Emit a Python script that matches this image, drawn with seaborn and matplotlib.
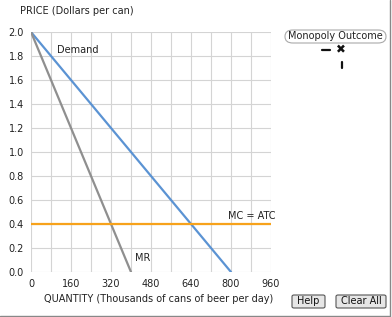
import numpy as np
import pandas as pd
import matplotlib
matplotlib.use("Agg")
import matplotlib.pyplot as plt
from matplotlib.patches import FancyBboxPatch
import seaborn as sns

# curve endpoints
demand_q = [0, 800]
demand_p = [2.0, 0.0]
mr_q = [0, 400]
mr_p = [2.0, 0.0]
mc_q = [0, 960]
mc_p = [0.4, 0.4]

x_ticks = [0, 160, 320, 480, 640, 800, 960]
y_ticks = [0.0, 0.2, 0.4, 0.6, 0.8, 1.0, 1.2, 1.4, 1.6, 1.8, 2.0]

sns.set_style("white")
plt.rcParams['font.family'] = ['DejaVu Sans']

fig = plt.figure(figsize=(3.92, 3.17), dpi=100)
ax = fig.add_axes([31/392, 1 - 272/317, 240/392, 240/317])

df = pd.concat([
    pd.DataFrame({'q': demand_q, 'p': demand_p, 'curve': 'Demand'}),
    pd.DataFrame({'q': mr_q, 'p': mr_p, 'curve': 'MR'}),
    pd.DataFrame({'q': mc_q, 'p': mc_p, 'curve': 'MC = ATC'}),
])
colors = {'Demand': '#5b93d3', 'MR': '#8f8f8f', 'MC = ATC': '#f7a21b'}
sns.lineplot(data=df, x='q', y='p', hue='curve', palette=colors,
             linewidth=1.6, legend=False, ax=ax, sort=False)

ax.set_xlim(0, 960)
ax.set_ylim(0, 2.0)
ax.set_xticks(np.arange(0, 961, 80), minor=True)
ax.set_xticks(x_ticks)
ax.set_yticks(y_ticks)
ax.set_yticklabels([f"{v:.1f}" for v in y_ticks])
ax.grid(True, which='both', color='#d4d4d4', linewidth=0.8)
ax.set_axisbelow(True)
for s in ax.spines.values():
    s.set_visible(False)
ax.tick_params(axis='both', which='both', length=0, labelsize=7, colors='#222222')
ax.tick_params(axis='x', pad=5)
ax.tick_params(axis='y', pad=5)
ax.set_xlabel('')
ax.set_ylabel('')

ax.text(104, 1.85, 'Demand', fontsize=7, va='center', ha='left', color='#222222')
ax.text(418, 0.12, 'MR', fontsize=7, va='center', ha='left', color='#222222')
ax.text(885, 0.47, 'MC = ATC', fontsize=7, va='center', ha='center', color='#222222')

fig.text(20/392, 1 - 11/317, 'PRICE (Dollars per can)', fontsize=7, va='center', ha='left', color='#222222')
fig.text(159/392, 1 - 299/317, 'QUANTITY (Thousands of cans of beer per day)', fontsize=7,
         va='center', ha='center', color='#222222')

# legend box "Monopoly Outcome"
box = FancyBboxPatch((285/392, 1 - 43/317), 101/392, 13/317,
                     boxstyle='round,pad=0,rounding_size=0.02', transform=fig.transFigure,
                     facecolor='white', edgecolor='#aaaaaa', linewidth=0.8)
fig.patches.append(box)
fig.text(335/392, 1 - 36/317, 'Monopoly Outcome', fontsize=7, va='center', ha='center', color='#222222')
fig.add_artist(plt.Line2D([322/392, 330/392], [1 - 50/317, 1 - 50/317], transform=fig.transFigure,
                          color='#111111', linewidth=1.6))
fig.text(341/392, 1 - 50/317, '✖', fontsize=8.5, va='center', ha='center', color='#111111')
fig.add_artist(plt.Line2D([341.5/392, 341.5/392], [1 - 62/317, 1 - 68/317], transform=fig.transFigure,
                          color='#111111', linewidth=1.6))

# buttons
for x0, w, label in [(292, 33, 'Help'), (336, 50, 'Clear All')]:
    b = FancyBboxPatch((x0/392, 1 - 308/317), w/392, 13/317,
                       boxstyle='round,pad=0,rounding_size=0.005', transform=fig.transFigure,
                       facecolor='#e6e6e6', edgecolor='#555555', linewidth=0.8)
    fig.patches.append(b)
    fig.text((x0 + w / 2)/392, 1 - 301.5/317, label, fontsize=7, va='center', ha='center', color='#111111')

# frame lines at right and bottom
fig.add_artist(plt.Line2D([389.5/392, 389.5/392], [1 - 316/317, 1], transform=fig.transFigure,
                          color='#888888', linewidth=1))
fig.add_artist(plt.Line2D([0, 390/392], [1 - 315.5/317, 1 - 315.5/317], transform=fig.transFigure,
                          color='#888888', linewidth=1))

fig.savefig('out.png', dpi=100)
